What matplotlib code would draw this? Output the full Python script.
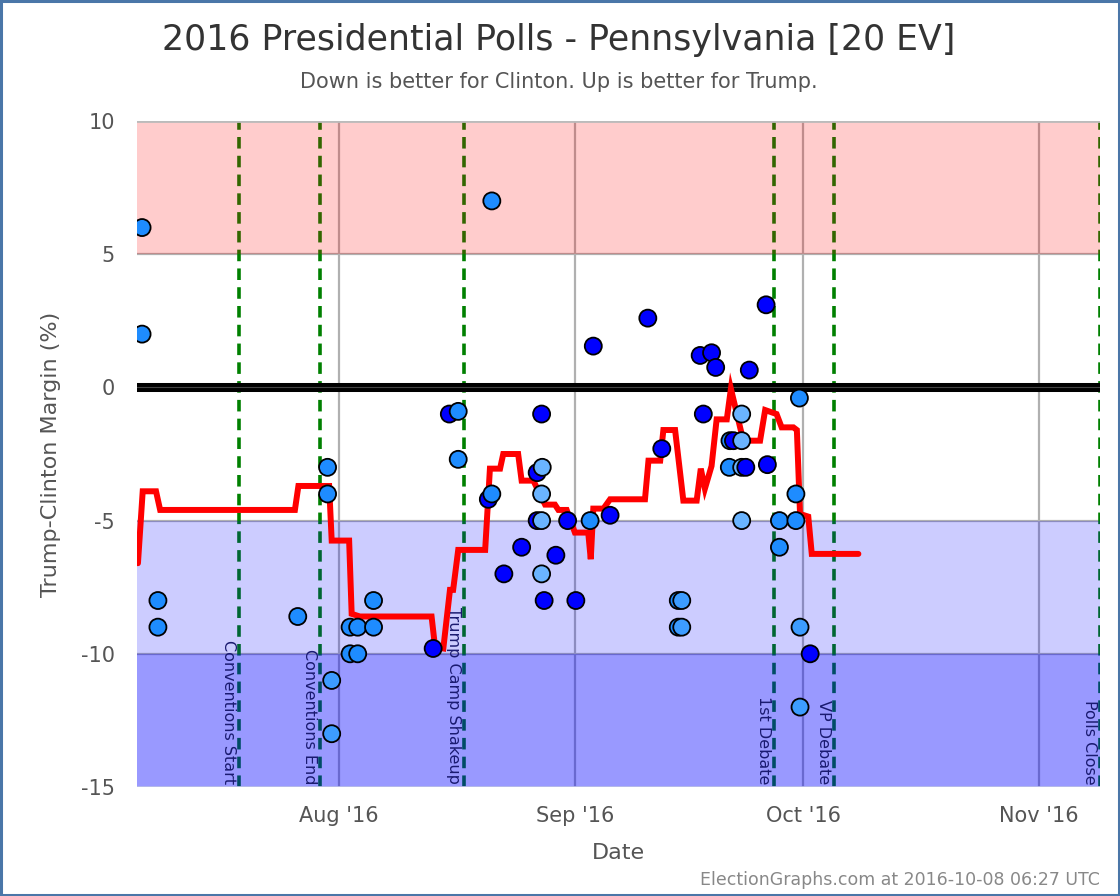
import matplotlib
matplotlib.use("Agg")
import matplotlib.pyplot as plt
import matplotlib.dates as mdates
import pandas as pd
from matplotlib.patches import Rectangle

plt.rcParams['font.family'] = ['Liberation Sans Narrow', 'DejaVu Sans']

# ---------------- data ----------------
line_dates = ["2016-07-05 14:00", "2016-07-06 05:00", "2016-07-07 23:00", "2016-07-08 12:00",
              "2016-07-26 05:00", "2016-07-26 16:00", "2016-07-30 17:00", "2016-07-31 01:00",
              "2016-08-02 08:00", "2016-08-02 16:00", "2016-08-03 18:00", "2016-08-13 04:00",
              "2016-08-13 15:00", "2016-08-14 17:00", "2016-08-15 14:00", "2016-08-16 00:00",
              "2016-08-16 16:00", "2016-08-20 05:00", "2016-08-20 20:00", "2016-08-22 04:00",
              "2016-08-22 14:00", "2016-08-24 13:00", "2016-08-25 00:00", "2016-08-26 13:00",
              "2016-08-28 02:00", "2016-08-29 09:00", "2016-08-29 20:00", "2016-08-30 22:00",
              "2016-09-01 00:00", "2016-09-02 18:00", "2016-09-03 02:00", "2016-09-03 10:00",
              "2016-09-04 18:00", "2016-09-05 15:00", "2016-09-10 05:00", "2016-09-10 16:00",
              "2016-09-12 05:00", "2016-09-12 15:00", "2016-09-14 04:00", "2016-09-15 06:00",
              "2016-09-17 00:00", "2016-09-17 13:00", "2016-09-18 02:00", "2016-09-18 23:00",
              "2016-09-19 15:00", "2016-09-20 23:00", "2016-09-21 12:00", "2016-09-23 03:00",
              "2016-09-25 08:00", "2016-09-26 00:00", "2016-09-27 12:00", "2016-09-28 04:00",
              "2016-09-29 17:00", "2016-09-30 04:00", "2016-09-30 14:00", "2016-10-01 16:00",
              "2016-10-02 03:00", "2016-10-08 06:00"]
line_values = [-6.6, -3.9, -3.9, -4.6, -4.6, -3.7, -3.7, -5.75, -5.75, -8.5, -8.6, -8.6,
               -9.75, -9.8, -7.6, -7.6, -6.1, -6.1, -3.05, -3.05, -2.5, -2.5, -3.5, -3.5,
               -4.4, -4.4, -4.6, -4.6, -5.45, -5.45, -6.45, -4.55, -4.55, -4.2, -4.2, -2.75,
               -2.75, -1.6, -1.6, -4.25, -4.25, -3.05, -3.8, -2.95, -1.2, -1.2, -0.05, -2.0,
               -2.0, -0.85, -1.0, -1.5, -1.5, -1.6, -4.75, -4.85, -6.25, -6.25]

poll_dates = ["2016-07-06 03:00", "2016-07-06 03:00", "2016-07-08 05:00", "2016-07-08 05:00",
              "2016-07-26 14:00", "2016-07-30 12:00", "2016-07-30 12:00", "2016-07-31 01:00",
              "2016-07-31 01:00", "2016-08-02 11:00", "2016-08-02 11:00", "2016-08-03 11:00",
              "2016-08-03 11:00", "2016-08-05 13:00", "2016-08-05 13:00", "2016-08-13 09:00",
              "2016-08-15 12:00", "2016-08-16 16:00", "2016-08-16 16:00", "2016-08-20 15:00",
              "2016-08-21 02:00", "2016-08-21 02:00", "2016-08-22 16:00", "2016-08-25 00:00",
              "2016-08-27 01:00", "2016-08-27 01:00", "2016-08-27 15:00", "2016-08-27 17:00",
              "2016-08-27 15:00", "2016-08-27 15:00", "2016-08-27 15:00", "2016-08-27 23:00",
              "2016-08-29 12:00", "2016-08-31 01:00", "2016-09-01 03:00", "2016-09-03 00:00",
              "2016-09-03 10:00", "2016-09-05 15:00", "2016-09-10 14:00", "2016-09-12 10:00",
              "2016-09-14 14:00", "2016-09-14 14:00", "2016-09-15 01:00", "2016-09-15 01:00",
              "2016-09-17 11:00", "2016-09-17 21:00", "2016-09-18 23:00", "2016-09-19 12:00",
              "2016-09-21 07:00", "2016-09-21 09:00", "2016-09-21 20:00", "2016-09-22 22:00",
              "2016-09-22 22:00", "2016-09-22 22:00", "2016-09-22 22:00", "2016-09-23 11:00",
              "2016-09-23 22:00", "2016-09-26 03:00", "2016-09-26 07:00", "2016-09-27 21:00",
              "2016-09-27 21:00", "2016-09-30 01:00", "2016-09-30 01:00", "2016-09-30 12:00",
              "2016-09-30 14:00", "2016-09-30 14:00", "2016-10-01 22:00"]
poll_margins = [6, 2, -8, -9,
                -8.6, -3, -4, -11,
                -13, -9, -10, -9,
                -10, -8, -9, -9.8,
                -1, -0.9, -2.7, -4.2,
                -4, 7, -7, -6,
                -3.2, -5, -1, -3,
                -4, -5, -7, -8,
                -6.3, -5, -8, -5,
                1.55, -4.8, 2.6, -2.3,
                -8, -9, -8, -9,
                1.2, -1, 1.3, 0.75,
                -3, -2, -2, -1,
                -2, -3, -5, -3,
                0.65, 3.1, -2.9, -5,
                -6, -4, -5, -0.4,
                -9, -12, -10]
poll_kinds = ["mid", "mid", "mid", "mid",
              "mid", "mid", "mid", "soft",
              "soft", "mid", "mid", "mid",
              "mid", "mid", "mid", "dark",
              "dark", "mid", "mid", "dark",
              "mid", "mid", "dark", "dark",
              "dark", "dark", "dark", "light",
              "light", "light", "light", "dark",
              "dark", "dark", "dark", "mid",
              "dark", "dark", "dark", "dark",
              "mid", "mid", "soft", "soft",
              "dark", "dark", "dark", "dark",
              "mid", "mid", "dark", "light",
              "light", "light", "light", "dark",
              "dark", "dark", "dark", "mid",
              "mid", "mid", "mid", "mid",
              "soft", "soft", "dark"]
kind_colors = {"dark": "#0000FF", "mid": "#1E8CFF", "soft": "#3D9CFF", "light": "#6AB4FF"}

event_names = ["Conventions Start", "Conventions End", "Trump Camp Shakeup",
               "1st Debate", "VP Debate", "Polls Close"]
event_dates = ["2016-07-18 22:00", "2016-07-29 12:00", "2016-08-17 10:00",
               "2016-09-27 05:00", "2016-10-05 01:00", "2016-11-09 00:00"]

month_ticks = ["2016-08-01", "2016-09-01", "2016-10-01", "2016-11-01"]
month_labels = ["Aug '16", "Sep '16", "Oct '16", "Nov '16"]
y_ticks = [10, 5, 0, -5, -10, -15]

x_start, x_end = "2016-07-05 11:00", "2016-11-09 00:00"

# ---------------- figure ----------------
fig = plt.figure(figsize=(11.2, 8.96), dpi=100)
ax = fig.add_axes([137 / 1120, 1 - 787 / 896, 963 / 1120, 666 / 896])

xs = pd.to_datetime(x_start)
xe = pd.to_datetime(x_end)
ax.set_xlim(xs, xe)
ax.set_ylim(-15, 10)

# gridlines (under bands)
for m in month_ticks:
    ax.axvline(pd.to_datetime(m), color="#b0b0b0", lw=1.6, zorder=1)
for yv in [5, -5, -10]:
    ax.axhline(yv, color="#b0b0b0", lw=1.6, zorder=1)
ax.axhline(10, color="#bbbbbb", lw=2.0, zorder=6)
ax.axhline(-15, color="#b8bce8", lw=2.0, zorder=6)

# event lines (under bands)
for name, d in zip(event_names, event_dates):
    dt = pd.to_datetime(d)
    ax.axvline(dt, color="#008000", lw=2.6, ls=(0, (3.2, 2.0)), zorder=2)
    ax.text(dt - pd.Timedelta(hours=10), -14.9, name, rotation=270, ha="right", va="bottom",
            color="#1a1a70", fontsize=11.5, zorder=7)

# bands
ax.axhspan(5, 10, color="#FF0000", alpha=0.2, lw=0, zorder=3)
ax.axhspan(-10, -5, color="#0000FF", alpha=0.2, lw=0, zorder=3)
ax.axhspan(-15, -10, color="#0000FF", alpha=0.4, lw=0, zorder=3)

# zero line
ax.axhline(0, color="black", lw=6.5, zorder=4)
ax.axhline(0, color="#444444", lw=0.8, zorder=4)

# moving average line
ax.plot(pd.to_datetime(line_dates), line_values, color="#FF0000", lw=4.3,
        solid_capstyle="round", solid_joinstyle="miter", zorder=5)

# polls
pcolors = [kind_colors[k] for k in poll_kinds]
ax.scatter(pd.to_datetime(poll_dates), poll_margins, s=150, c=pcolors,
           edgecolors="black", linewidths=1.3, zorder=8)

# ticks
ax.set_xticks(pd.to_datetime(month_ticks))
ax.set_xticklabels(month_labels)
ax.set_yticks(y_ticks)
ax.set_yticklabels([str(v) for v in y_ticks])
ax.tick_params(axis="both", length=0, labelsize=15, labelcolor="#555555")
ax.tick_params(axis="x", pad=14)
ax.tick_params(axis="y", pad=16)
for s in ax.spines.values():
    s.set_visible(False)

ax.set_xlabel("Date", fontsize=16, color="#555555", labelpad=12)
ax.set_ylabel("Trump-Clinton Margin (%)", fontsize=16, color="#555555", labelpad=14)

fig.text(559 / 1120, 1 - 40 / 896, "2016 Presidential Polls - Pennsylvania [20 EV]",
         ha="center", va="center", fontsize=25, color="#333333")
fig.text(559 / 1120, 1 - 82 / 896, "Down is better for Clinton. Up is better for Trump.",
         ha="center", va="center", fontsize=15, color="#555555")
fig.text(1100 / 1120, 1 - 880 / 896, "ElectionGraphs.com at 2016-10-08 06:27 UTC",
         ha="right", va="center", fontsize=12.5, color="#888888")

fig.patches.append(Rectangle((0.001, 0.001), 0.998, 0.998, transform=fig.transFigure,
                             fill=False, edgecolor="#4A76A8", lw=2.2))

fig.savefig("out.png", dpi=100)
